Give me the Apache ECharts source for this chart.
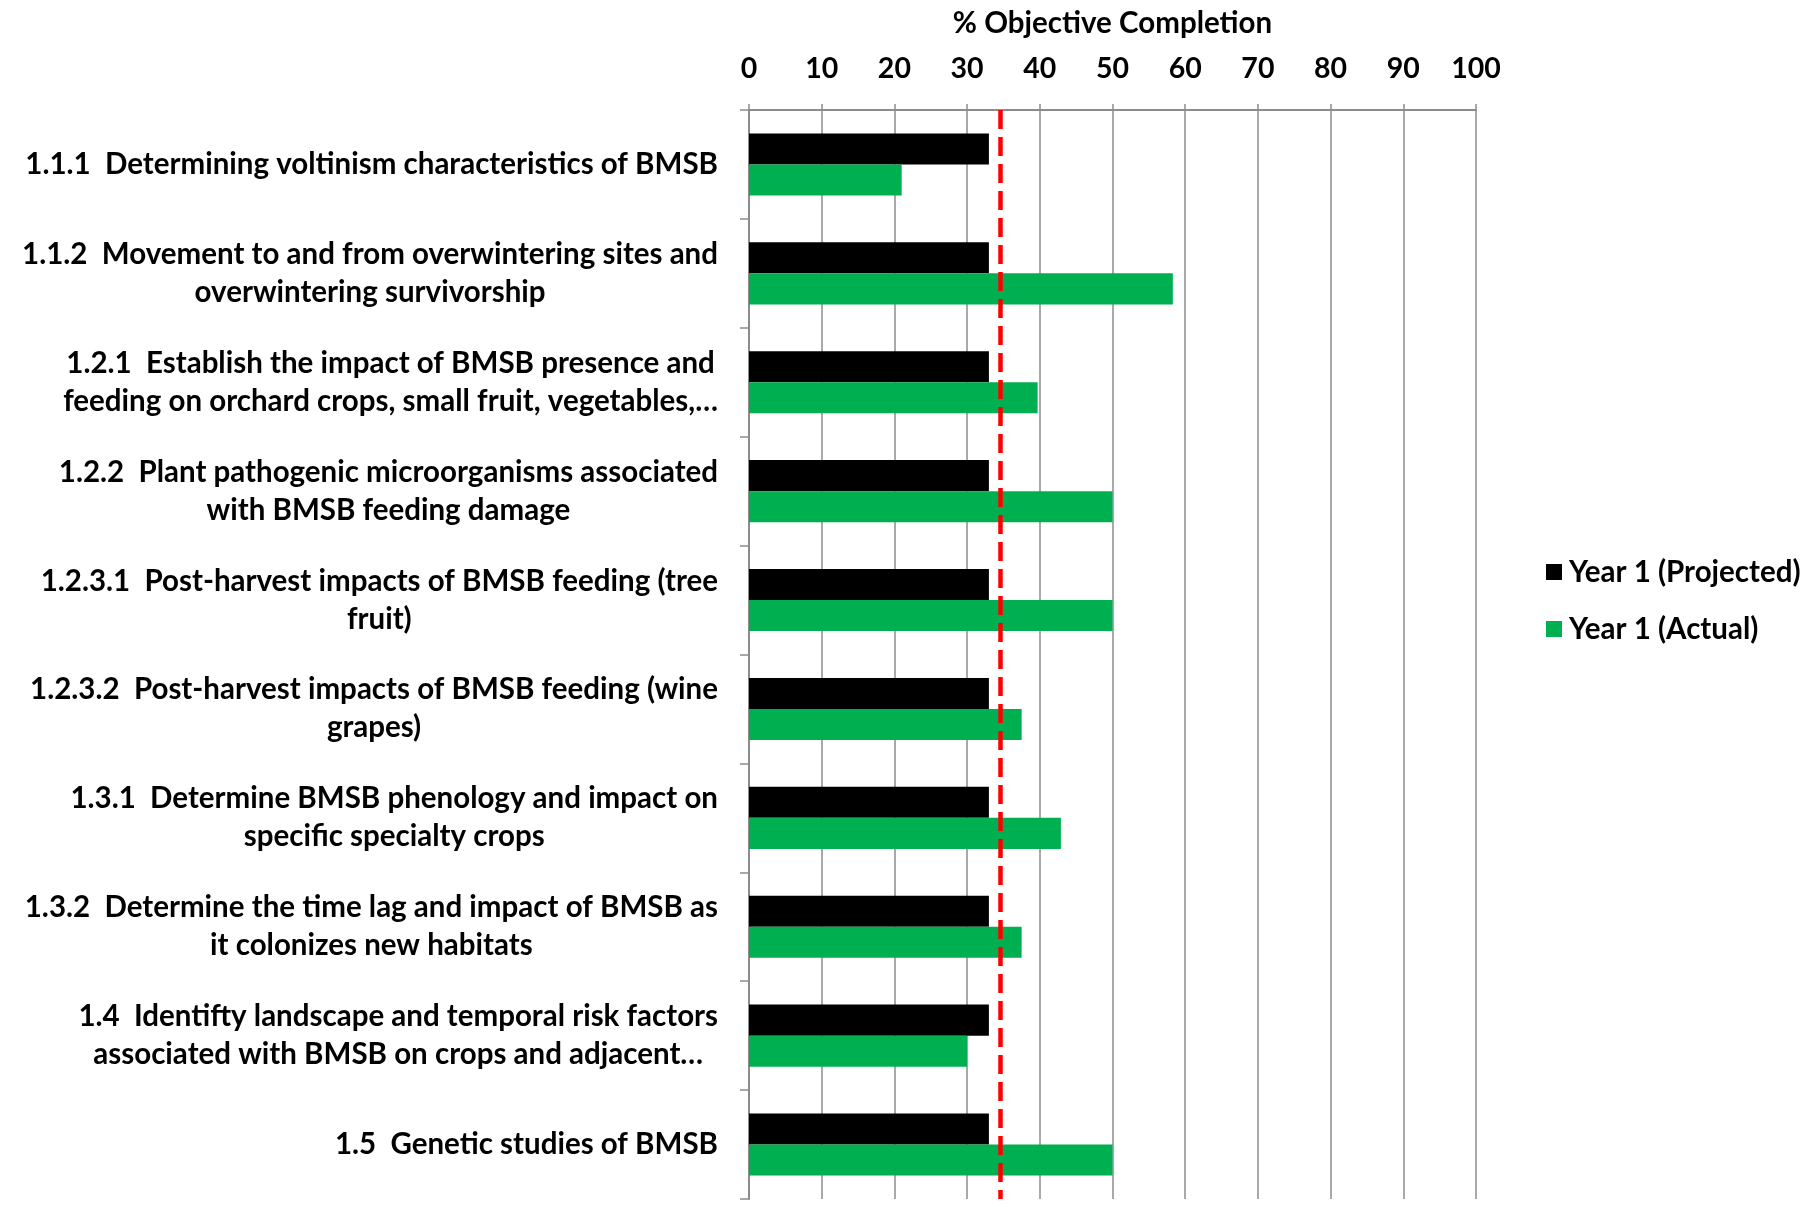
<!DOCTYPE html>
<html>
<head>
<meta charset="utf-8">
<script src="https://cdn.jsdelivr.net/npm/echarts@6/dist/echarts.min.js"></script>
<style>
html,body{margin:0;padding:0;background:#fff;}
#chart{width:1810px;height:1207px;}
</style>
</head>
<body>
<div id="chart"></div>
<script>
const categories = [
  "1.1.1  Determining voltinism characteristics of BMSB",
  "1.1.2  Movement to and from overwintering sites and\noverwintering survivorship",
  "1.2.1  Establish the impact of BMSB presence and\nfeeding on orchard crops, small fruit, vegetables,…",
  "1.2.2  Plant pathogenic microorganisms associated\nwith BMSB feeding damage",
  "1.2.3.1  Post-harvest impacts of BMSB feeding (tree\nfruit)",
  "1.2.3.2  Post-harvest impacts of BMSB feeding (wine\ngrapes)",
  "1.3.1  Determine BMSB phenology and impact on\nspecific specialty crops",
  "1.3.2  Determine the time lag and impact of BMSB as\nit colonizes new habitats",
  "1.4  Identifty landscape and temporal risk factors\nassociated with BMSB on crops and adjacent…",
  "1.5  Genetic studies of BMSB"
];
const projected = [33, 33, 33, 33, 33, 33, 33, 33, 33, 33];
const actual = [21, 58.3, 39.7, 50, 50, 37.5, 42.9, 37.5, 30, 50];
const xTicks = [0, 10, 20, 30, 40, 50, 60, 70, 80, 90, 100];
const timeElapsed = 34.5;
const seriesNames = ["Year 1 (Projected)", "Year 1 (Actual)"];

const FONT = 'Lato';
const gray = '#8c8c8c';
const chart = echarts.init(document.getElementById('chart'), null, {renderer: 'canvas'});
chart.setOption({
  backgroundColor: '#ffffff',
  animation: false,
  textStyle: {fontFamily: FONT, fontWeight: 'bold', color: '#000'},
  grid: {left: 749, right: 334, top: 110, bottom: 8, containLabel: false},
  legend: {
    orient: 'vertical',
    left: 1541,
    top: 552,
    itemWidth: 16,
    itemHeight: 16,
    itemGap: 27,
    icon: 'rect',
    textStyle: {fontFamily: FONT, fontWeight: 'bold', fontSize: 29.5, lineHeight: 29, color: '#000', padding: [0,0,0,2]},
    data: seriesNames
  },
  xAxis: {
    type: 'value',
    position: 'top',
    min: xTicks[0],
    max: xTicks[xTicks.length - 1],
    interval: 10,
    name: '% Objective Completion',
    nameLocation: 'middle',
    nameGap: 72,
    nameTextStyle: {fontFamily: FONT, fontWeight: 'bold', fontSize: 29.5, color: '#000'},
    axisLine: {show: true, lineStyle: {color: gray, width: 2}},
    axisTick: {show: true, length: 6, lineStyle: {color: gray, width: 1.5}},
    axisLabel: {fontFamily: FONT, fontWeight: 'bold', fontSize: 28.5, color: '#000', margin: 27},
    splitLine: {show: true, lineStyle: {color: gray, width: 1.5}}
  },
  yAxis: {
    type: 'category',
    inverse: true,
    data: categories,
    axisLine: {show: true, lineStyle: {color: gray, width: 2}},
    axisTick: {show: true, length: 9, lineStyle: {color: gray, width: 1.5}},
    axisLabel: {
      margin: 31,
      align: 'right',
      formatter: function (v) {
        return v.split('\n').map(function (l) { return '{c|' + l + '}'; }).join('\n');
      },
      rich: {
        c: {align: 'center', fontFamily: FONT, fontWeight: 'bold', fontSize: 29.5, lineHeight: 38, color: '#000'}
      }
    },
    splitLine: {show: false}
  },
  series: [
    {
      name: seriesNames[0],
      type: 'bar',
      data: projected,
      barGap: '0%',
      barCategoryGap: '43%',
      itemStyle: {color: '#000000'},
      markLine: {
        silent: true,
        symbol: ['none', 'none'],
        label: {show: false},
        lineStyle: {color: '#ff0000', width: 4.5, type: [19, 8]},
        data: [{xAxis: timeElapsed}]
      }
    },
    {
      name: seriesNames[1],
      type: 'bar',
      data: actual,
      barGap: '0%',
      barCategoryGap: '43%',
      itemStyle: {color: '#00b050'}
    }
  ]
});
</script>
</body>
</html>
